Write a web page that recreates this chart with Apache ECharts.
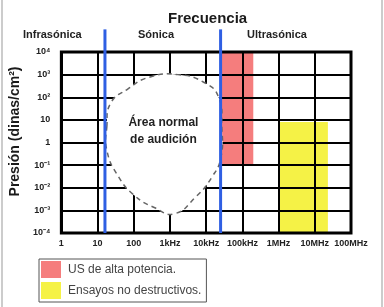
<!DOCTYPE html>
<html>
<head>
<meta charset="utf-8">
<script src="https://cdn.jsdelivr.net/npm/echarts@6/dist/echarts.min.js"></script>
<style>
  html, body { margin: 0; padding: 0; background: #fff; }
  #chart { width: 384px; height: 307px; }
</style>
</head>
<body>
<div id="chart"></div>
<script>
// tick labels, one per decade
var xTickLabels = ['1', '10', '100', '1kHz', '10kHz', '100kHz', '1MHz', '10MHz', '100MHz'];
var yTickLabels = ['10\u207B\u2074', '10\u207B\u00B3', '10\u207B\u00B2', '10\u207B\u00B9', '1', '10', '10\u00B2', '10\u00B3', '10\u2074'];

// bands: [fmin, fmax, pmin, pmax]
var usBand = [25000, 200000, 0.1, 10000];
var ndtBand = [1000000, 23000000, 0.0001, 8];

// limits between infra / sonic / ultra
var limitFreqs = [16, 25000];

// outline of the normal hearing area [freq, pressure]
var hearingOutline = [
  [18, 4.8], [23, 55], [68, 230], [260, 760], [1660, 1000], [8800, 450],
  [22000, 100], [27000, 4.8], [25500, 0.22], [14500, 0.03], [5200, 0.004],
  [1300, 0.0007], [380, 0.0013], [105, 0.0045], [36, 0.035], [18, 0.46]
];
var hearingLabel = ['Área normal', 'de audición'];
var hearingLabelAt = [660, 3.2];

var regionNames = ['Infrasónica', 'Sónica', 'Ultrasónica'];
var legendNames = ['US de alta potencia.', 'Ensayos no destructivos.'];

var myChart = echarts.init(document.getElementById('chart'));

var fontFam = '"Liberation Sans", Arial, sans-serif';

function bandItem(params, api) {
  var p0 = api.coord([api.value(0), api.value(3)]);
  var p1 = api.coord([api.value(1), api.value(2)]);
  return {
    type: 'rect',
    shape: { x: p0[0], y: p0[1], width: p1[0] - p0[0], height: p1[1] - p0[1] },
    style: api.style()
  };
}

var option = {
  animation: false,
  backgroundColor: '#fff',
  title: {
    text: 'Frecuencia',
    left: 163,
    top: 6,
    textStyle: { fontFamily: fontFam, fontSize: 15, fontWeight: 'bold', color: '#1a1a1a' }
  },
  graphic: [
    { type: 'text', left: 23, top: 29, style: { text: regionNames[0], font: 'bold 11px ' + fontFam, fill: '#222' } },
    { type: 'text', left: 138, top: 29, style: { text: regionNames[1], font: 'bold 11px ' + fontFam, fill: '#222' } },
    { type: 'text', left: 247, top: 29, style: { text: regionNames[2], font: 'bold 11px ' + fontFam, fill: '#222' } },
    { type: 'line', shape: { x1: 2, y1: 0, x2: 2, y2: 307 }, style: { stroke: '#999', lineWidth: 1 } },
    { type: 'line', shape: { x1: 382, y1: 0, x2: 382, y2: 307 }, style: { stroke: '#999', lineWidth: 1 } }
  ],
  legend: {
    data: legendNames,
    orient: 'vertical',
    left: 39,
    top: 259,
    padding: [2, 5, 3, 2],
    itemGap: 4,
    itemWidth: 20,
    itemHeight: 17,
    icon: 'rect',
    borderColor: '#555',
    borderWidth: 1,
    selectedMode: false,
    textStyle: { fontFamily: fontFam, fontSize: 12, color: '#444', padding: [0, 0, 0, 2] }
  },
  grid: {
    left: 53, right: 33, top: 52, bottom: 74,
    show: true,
    borderColor: '#000',
    borderWidth: 3
  },
  xAxis: {
    type: 'log',
    logBase: 10,
    min: 1,
    max: 100000000,
    interval: 1,
    axisLine: { show: false },
    axisTick: { show: false },
    splitLine: { show: true, lineStyle: { color: '#000', width: 2 } },
    axisLabel: {
      margin: 6,
      fontFamily: fontFam,
      fontSize: 9,
      fontWeight: 'bold',
      color: '#222',
      formatter: function (v) { return xTickLabels[Math.round(Math.log10(v))]; }
    }
  },
  yAxis: {
    type: 'log',
    logBase: 10,
    min: 0.0001,
    max: 10000,
    interval: 1,
    name: 'Presión (dinas/cm²)',
    nameLocation: 'middle',
    nameGap: 21,
    nameTextStyle: { fontFamily: fontFam, fontSize: 14, fontWeight: 'bold', color: '#1a1a1a', padding: [0, 0, 0, 22] },
    axisLine: { show: false },
    axisTick: { show: false },
    splitLine: { show: true, lineStyle: { color: '#000', width: 2 } },
    axisLabel: {
      margin: 11,
      fontFamily: fontFam,
      fontSize: 9,
      fontWeight: 'bold',
      color: '#222',
      formatter: function (v) { return yTickLabels[Math.round(Math.log10(v)) + 4]; }
    }
  },
  series: [
    {
      name: legendNames[0],
      type: 'custom',
      z: -1,
      renderItem: bandItem,
      itemStyle: { color: '#f57d7d' },
      encode: { x: [0, 1], y: [2, 3] },
      data: [usBand]
    },
    {
      name: legendNames[1],
      type: 'custom',
      z: -1,
      renderItem: bandItem,
      itemStyle: { color: '#f5f246' },
      encode: { x: [0, 1], y: [2, 3] },
      data: [ndtBand]
    },
    {
      name: 'audicion',
      type: 'custom',
      encode: { x: 0, y: 1 },
      data: hearingOutline,
      renderItem: function (params, api) {
        if (params.dataIndex !== 0) return null;
        var pts = hearingOutline.map(function (p) { return api.coord(p); });
        var c = api.coord(hearingLabelAt);
        return {
          type: 'group',
          children: [
            {
              type: 'polygon',
              shape: { points: pts, smooth: 0.5 },
              style: { fill: '#fff', stroke: '#666', lineWidth: 1.5, lineDash: [5, 4] }
            },
            {
              type: 'text',
              x: c[0], y: c[1],
              style: {
                text: hearingLabel.join('\n'),
                font: 'bold 12px ' + fontFam,
                fill: '#222',
                align: 'center',
                verticalAlign: 'middle',
                lineHeight: 17
              }
            }
          ]
        };
      }
    },
    {
      name: 'limites',
      type: 'custom',
      encode: { x: 0 },
      data: limitFreqs.map(function (f) { return [f]; }),
      renderItem: function (params, api) {
        var top = api.coord([api.value(0), 100000]);
        var bot = api.coord([api.value(0), 0.0001]);
        return {
          type: 'line',
          shape: { x1: top[0], y1: top[1], x2: bot[0], y2: bot[1] },
          style: { stroke: '#2f5fe3', lineWidth: 3 }
        };
      }
    }
  ]
};

myChart.setOption(option);

window.onresize = function () {
  myChart.resize();
};
</script>
</body>
</html>
